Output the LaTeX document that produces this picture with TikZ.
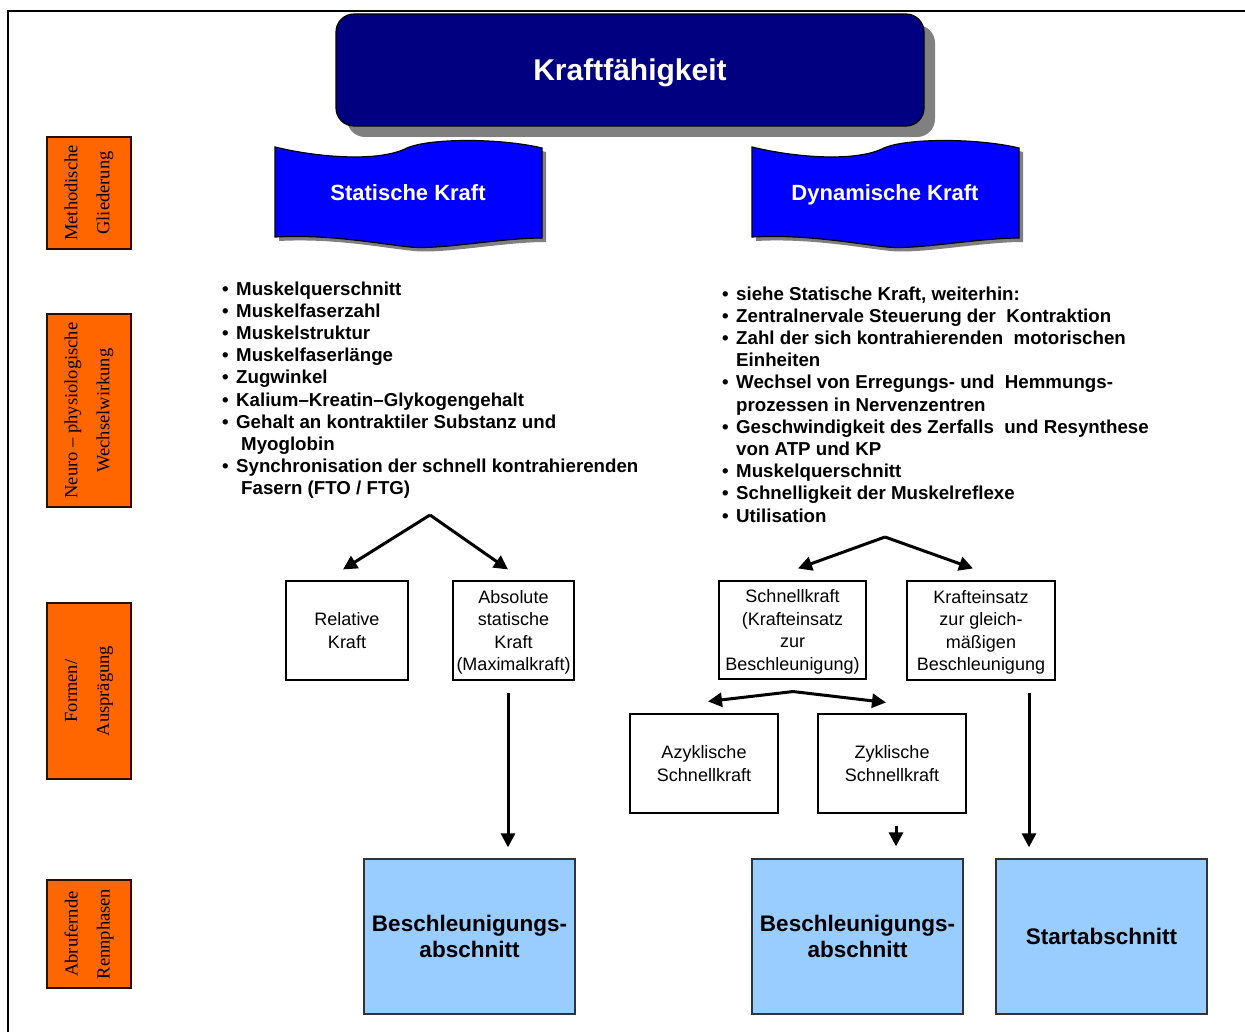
\documentclass[tikz,border=0pt]{standalone}
\usepackage{fontspec}
\setmainfont{Liberation Sans}
\newfontfamily\sidefont{Liberation Serif}
\usetikzlibrary{arrows.meta,shadows,calc}

\definecolor{titlenavy}{HTML}{000080}
\definecolor{bannerblue}{HTML}{0000FF}
\definecolor{sideorange}{HTML}{FF6600}
\definecolor{phaseblue}{HTML}{99CCFF}
\definecolor{shadowgray}{HTML}{808080}

\tikzset{
  titlebox/.style={draw=black, line width=1.2pt, fill=titlenavy, rounded corners=18pt,
    minimum width=588pt, minimum height=112pt, text=white, inner sep=0pt,
    text height=21pt, text depth=0pt,
    font=\bfseries\fontsize{30}{34}\selectfont,
    drop shadow={shadow xshift=11pt, shadow yshift=-11pt, fill=shadowgray, opacity=1}},
  bannertext/.style={text=white, font=\bfseries\fontsize{22}{26}\selectfont, inner sep=0pt,
    text height=15.8pt, text depth=0pt},
  sidebox/.style={draw=black!85!sideorange, line width=1.2pt, fill=sideorange, rotate=90,
    align=center, inner sep=0pt, font=\sidefont\fontsize{18.5}{32}\selectfont},
  formbox/.style={draw=black, line width=1.1pt, fill=white, align=center, inner sep=0pt,
    text depth=0pt, font=\fontsize{18}{22.5}\selectfont},
  twolines/.style={text height=35.5pt},
  fourlines/.style={text height=80.5pt},
  phasebox/.style={draw=black!80, line width=1.3pt, fill=phaseblue, align=center, inner sep=0pt,
    minimum width=211pt, minimum height=155pt, text depth=0pt,
    font=\bfseries\fontsize{22.5}{26}\selectfont},
  listtext/.style={anchor=north west, align=left, inner sep=0pt,
    font=\bfseries\fontsize{18.7}{22.2}\selectfont},
  arr/.style={-{Triangle[length=14pt,width=14pt]}, line width=3pt},
  pics/wavebanner/.style={code={
    \begin{scope}[shift={(4,4)}]
      \fill[shadowgray] (0,7) .. controls (45,18) and (105,22) .. (132,8)
        .. controls (155,-2) and (225,-2) .. (267,8) -- (267,98)
        .. controls (225,98) and (165,110) .. (135,107)
        .. controls (105,104) and (55,94) .. (0,97) -- cycle;
    \end{scope}
    \draw[line width=1.2pt, fill=bannerblue] (0,7) .. controls (45,18) and (105,22) .. (132,8)
        .. controls (155,-2) and (225,-2) .. (267,8) -- (267,98)
        .. controls (225,98) and (165,110) .. (135,107)
        .. controls (105,104) and (55,94) .. (0,97) -- cycle;
  }}
}

\newcommand{\bul}{\makebox[14pt][l]{•}}

\begin{document}
\begin{tikzpicture}[x=1pt,y=-1pt]
\useasboundingbox (0,0) rectangle (1245,1032);

% outer frame
\draw[line width=2.5pt] (1260,11) -- (8,11) -- (8,1045);

% row labels
\node[sidebox, minimum width=112pt, minimum height=84pt] (rowA) at (89,193) {Methodische\\Gliederung};
\node[sidebox, minimum width=193pt, minimum height=84pt] (rowB) at (89,410.5) {Neuro – physiologische\\Wechselwirkung};
\node[sidebox, minimum width=176pt, minimum height=84pt] (rowC) at (89,691) {Formen/\\Ausprägung};
\node[sidebox, minimum width=108pt, minimum height=84pt] (rowD) at (89,934) {Abrufernde\\Rennphasen};

% title
\node[titlebox] (title) at (630,70) {Kraftfähigkeit};

% banners
\pic at (275,140) {wavebanner};
\pic at (752,140) {wavebanner};
\node[bannertext] (stat) at (408,193) {Statische Kraft};
\node[bannertext] (dyn) at (885,193) {Dynamische Kraft};

% factor lists
\node[listtext] (statlist) at (222,281.4) {%
\bul Muskelquerschnitt\\
\bul Muskelfaserzahl\\
\bul Muskelstruktur\\
\bul Muskelfaserlänge\\
\bul Zugwinkel\\
\bul Kalium–Kreatin–Glykogengehalt\\
\bul Gehalt an kontraktiler Substanz und\\
\hspace*{19pt}Myoglobin\\
\bul Synchronisation der schnell kontrahierenden\\
\hspace*{19pt}Fasern (FTO / FTG)};

\node[listtext] (dynlist) at (722,286.4) {%
\bul siehe Statische Kraft, weiterhin:\\
\bul Zentralnervale Steuerung der~ Kontraktion\\
\bul Zahl der sich kontrahierenden~ motorischen\\
\hspace*{14pt}Einheiten\\
\bul Wechsel von Erregungs- und~ Hemmungs-\\
\hspace*{14pt}prozessen in Nervenzentren\\
\bul Geschwindigkeit des Zerfalls~ und Resynthese\\
\hspace*{14pt}von ATP und KP\\
\bul Muskelquerschnitt\\
\bul Schnelligkeit der Muskelreflexe\\
\bul Utilisation};

% forms
\node[formbox, twolines, minimum width=122pt, minimum height=99pt] (rel) at (347,630.5) {Relative\\Kraft};
\node[formbox, fourlines, minimum width=121pt, minimum height=99pt] (abs) at (513.5,630.5) {Absolute\\statische\\Kraft\\(Maximalkraft)};
\node[formbox, fourlines, minimum width=147pt, minimum height=98pt] (schnell) at (792.5,630) {Schnellkraft\\(Krafteinsatz\\zur\\Beschleunigung)};
\node[formbox, fourlines, minimum width=148pt, minimum height=99pt] (gleich) at (981,630.5) {Krafteinsatz\\zur gleich-\\mäßigen\\Beschleunigung};
\node[formbox, twolines, minimum width=148pt, minimum height=99pt] (azyk) at (704,763.5) {Azyklische\\Schnellkraft};
\node[formbox, twolines, minimum width=148pt, minimum height=99pt] (zyk) at (892,763.5) {Zyklische\\Schnellkraft};

% race phases
\node[phasebox, text height=42.1pt] (phaseA) at (469.5,936.5) {Beschleunigungs-\\abschnitt};
\node[phasebox, text height=42.1pt] (phaseB) at (857.5,936.5) {Beschleunigungs-\\abschnitt};
\node[phasebox, text height=16.1pt] (phaseC) at (1101.5,936.5) {Startabschnitt};

% branching arrows
\coordinate (statsplit) at (430,515);
\coordinate (dynsplit) at (885,537);
\coordinate (schnellsplit) at ($(schnell.south)+(0.5,12)$);
\draw[arr] (statsplit) -- ($(rel.north)+(-4,-11)$);
\draw[arr] (statsplit) -- ($(abs.north)+(-5.5,-11)$);
\draw[arr] (dynsplit) -- ($(schnell.north)+(5.5,-12)$);
\draw[arr] (dynsplit) -- ($(gleich.north)+(-8,-12)$);
\draw[arr] (schnellsplit) -- ($(azyk.north)+(4,-12)$);
\draw[arr] (schnellsplit) -- ($(zyk.north)+(-6,-11)$);

% arrows into race phases
\draw[arr] ($(abs.south)+(-5.5,12)$) -- ($(phaseA.north)+(38.5,-11)$);
\draw[arr] ($(zyk.south)+(4,12)$) -- ($(phaseB.north)+(38.5,-12)$);
\draw[arr] ($(gleich.south)+(48,12)$) -- ($(phaseC.north)+(-72.5,-11)$);
\end{tikzpicture}
\end{document}
